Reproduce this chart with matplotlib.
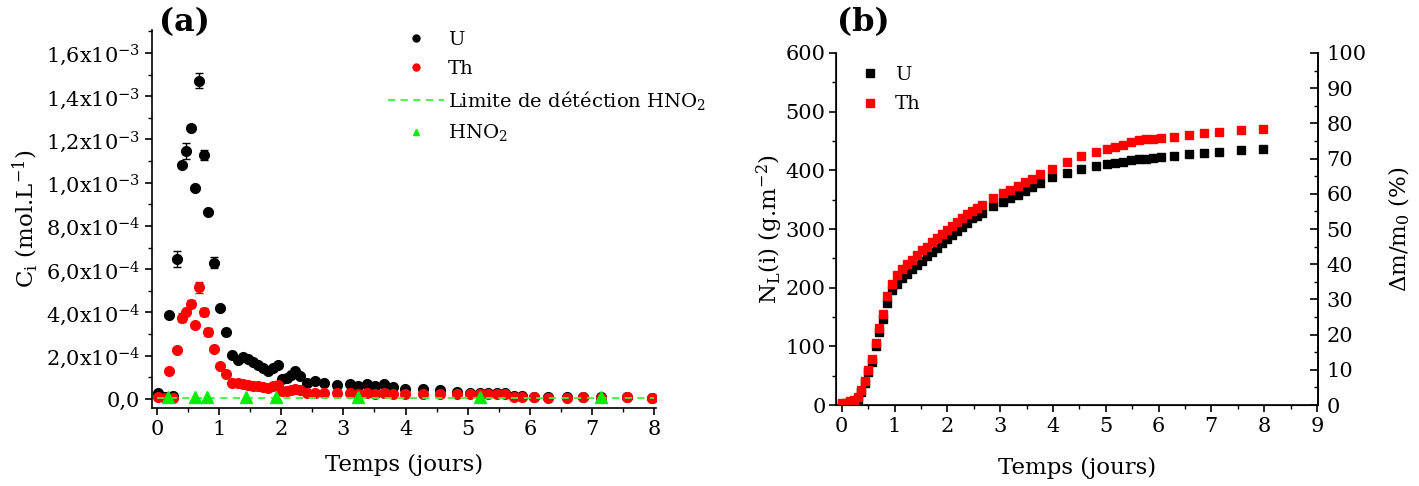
import matplotlib
matplotlib.use("Agg")
import matplotlib.pyplot as plt
from matplotlib.ticker import MultipleLocator, FuncFormatter
from matplotlib.lines import Line2D
import numpy as np

plt.rcParams['font.family'] = ['DejaVu Serif']
plt.rcParams['mathtext.fontset'] = 'dejavuserif'

# ---------------- panel (a) data ----------------
t_a = [0.02, 0.13, 0.19, 0.26, 0.33, 0.40, 0.47, 0.54, 0.61, 0.68, 0.75, 0.82, 0.91,
       1.02, 1.11, 1.21, 1.31, 1.39, 1.47, 1.55, 1.63, 1.71, 1.79, 1.87, 1.94, 2.01,
       2.09, 2.15, 2.22, 2.30, 2.41, 2.54, 2.68, 2.89, 3.10, 3.24, 3.38, 3.51, 3.66,
       3.80, 3.99, 4.28, 4.55, 4.83, 5.04, 5.19, 5.32, 5.47, 5.60, 5.74, 5.87, 6.06,
       6.30, 6.59, 6.86, 7.14, 7.56, 7.97]
c_U = [2.9e-5, 1.0e-5, 3.87e-4, 1.2e-5, 6.46e-4, 1.082e-3, 1.147e-3, 1.252e-3, 0.974e-3,
       1.472e-3, 1.127e-3, 0.866e-3, 6.3e-4, 4.22e-4, 3.08e-4, 2.03e-4, 1.80e-4, 1.96e-4,
       1.84e-4, 1.73e-4, 1.57e-4, 1.42e-4, 1.28e-4, 1.42e-4, 1.55e-4, 0.90e-4, 0.95e-4,
       1.10e-4, 1.30e-4, 1.08e-4, 0.73e-4, 0.83e-4, 0.75e-4, 0.65e-4, 0.71e-4, 0.61e-4,
       0.69e-4, 0.61e-4, 0.67e-4, 0.57e-4, 0.44e-4, 0.44e-4, 0.42e-4, 0.32e-4, 0.26e-4,
       0.29e-4, 0.26e-4, 0.26e-4, 0.26e-4, 0.15e-4, 0.15e-4, 0.10e-4, 0.07e-4, 0.07e-4,
       0.08e-4, 0.07e-4, 0.08e-4, 0.06e-4]
err_U = [5e-6, 3e-6, 8e-6, 3e-6, 3.7e-5, 8e-6, 3.7e-5, 8e-6, 8e-6, 3.6e-5, 2.2e-5, 8e-6,
         2.5e-5] + [5e-6] * 45
c_Th = [1.0e-5, 0.3e-5, 1.31e-4, 0.2e-5, 2.27e-4, 3.76e-4, 4.01e-4, 4.41e-4, 3.42e-4,
        5.16e-4, 4.01e-4, 3.08e-4, 2.30e-4, 1.53e-4, 1.16e-4, 0.75e-4, 0.72e-4, 0.70e-4,
        0.66e-4, 0.62e-4, 0.58e-4, 0.55e-4, 0.50e-4, 0.58e-4, 0.65e-4, 0.35e-4, 0.36e-4,
        0.42e-4, 0.48e-4, 0.40e-4, 0.29e-4, 0.27e-4, 0.26e-4, 0.26e-4, 0.26e-4, 0.25e-4,
        0.26e-4, 0.25e-4, 0.26e-4, 0.24e-4, 0.24e-4, 0.24e-4, 0.24e-4, 0.22e-4, 0.22e-4,
        0.24e-4, 0.22e-4, 0.22e-4, 0.22e-4, 0.08e-4, 0.08e-4, 0.07e-4, 0.06e-4, 0.06e-4,
        0.07e-4, 0.06e-4, 0.07e-4, 0.05e-4]
err_Th = [3e-6, 3e-6, 6e-6, 3e-6, 6e-6, 2.0e-5, 8e-6, 1.8e-5, 8e-6, 2.5e-5, 1.8e-5, 1.8e-5,
          8e-6] + [4e-6] * 45
t_HNO2 = [0.18, 0.61, 0.81, 1.44, 1.92, 3.23, 5.19, 7.14]
c_HNO2 = [1.0e-5] * 8
limit_x = [0.0, 8.0]
limit_value = 5e-6

# ---------------- panel (b) data ----------------
t_b = [0, 0.08, 0.16, 0.23, 0.30, 0.37, 0.43, 0.50, 0.57, 0.64, 0.71, 0.78, 0.86, 0.95,
       1.04, 1.14, 1.23, 1.33, 1.42, 1.52, 1.61, 1.70, 1.80, 1.89, 1.99, 2.08, 2.18, 2.27,
       2.37, 2.46, 2.56, 2.65, 2.86, 3.06, 3.19, 3.33, 3.47, 3.61, 3.76, 3.98, 4.26, 4.53,
       4.82, 5.02, 5.18, 5.33, 5.47, 5.62, 5.76, 5.89, 6.05, 6.30, 6.58, 6.86, 7.14, 7.56,
       7.98]
N_U = [2, 2, 3, 5, 10, 22, 38, 57, 73, 100, 125, 146, 174, 196, 206, 216, 224, 232, 239,
       246, 254, 261, 268, 276, 283, 289, 296, 304, 311, 318, 322, 328, 340, 346, 352, 358,
       364, 372, 378, 388, 396, 403, 408, 411, 413, 415, 417, 419, 420, 421, 422, 425, 428,
       430, 431, 435, 436]
N_Th = [3, 4, 6, 8, 13, 26, 41, 60, 78, 105, 132, 155, 185, 207, 221, 232, 241, 248, 256,
        264, 270, 278, 285, 292, 299, 305, 312, 318, 325, 331, 336, 341, 353, 361, 367, 374,
        380, 386, 393, 403, 414, 424, 432, 436, 440, 444, 448, 451, 453, 454, 455, 457, 460,
        463, 465, 468, 470]

W, H = 1419, 486
fig = plt.figure(figsize=(W / 100, H / 100), dpi=100)

def fx(px):
    return px / W

def fy(py):
    return 1 - py / H

tick_fs = 15
lab_fs = 16.5

# ---------------- panel (a) ----------------
ax1 = fig.add_axes([fx(152), fy(408), fx(656 - 152), (408 - 30) / H])
ax1.errorbar(t_a, c_U, yerr=err_U, fmt='o', color='black', ms=7, ecolor='black',
             elinewidth=1, capsize=3, capthick=1, zorder=3)
ax1.errorbar(t_a, c_Th, yerr=err_Th, fmt='o', color='#ff0000', ms=7, ecolor='#cc0000',
             elinewidth=1, capsize=3, capthick=1, zorder=4)
ax1.plot(limit_x, [limit_value] * len(limit_x), '--', color='#44ee44', lw=1.3,
         dashes=(4, 3), zorder=5)
ax1.plot(t_HNO2, c_HNO2, '^', color='#00ee00', ms=8, ls='none', zorder=6)

ax1.set_xlim(-0.08, 8.03)
ax1.set_ylim(-4.2e-5, 1.706e-3)
ax1.xaxis.set_major_locator(MultipleLocator(1))
ax1.xaxis.set_minor_locator(MultipleLocator(0.5))
ax1.yaxis.set_major_locator(MultipleLocator(2e-4))
ax1.yaxis.set_minor_locator(MultipleLocator(1e-4))

def sci_fmt(v, pos):
    if abs(v) < 1e-12:
        return '0,0'
    e = int(np.floor(np.log10(abs(v)) + 1e-9))
    m = v / 10 ** e
    return ('%.1f' % m).replace('.', ',') + 'x10$^{%d}$' % e

ax1.yaxis.set_major_formatter(FuncFormatter(sci_fmt))
for s in ['top', 'right']:
    ax1.spines[s].set_visible(False)
for s in ['left', 'bottom']:
    ax1.spines[s].set_linewidth(1.2)
ax1.tick_params(axis='both', which='major', direction='out', length=5, width=1.2,
                labelsize=tick_fs)
ax1.tick_params(axis='both', which='minor', direction='out', length=3, width=1.0)
ax1.set_xlabel('Temps (jours)', fontsize=lab_fs, labelpad=11)
ax1.set_ylabel('C$_{\\mathrm{i}}$ (mol.L$^{-1}$)', fontsize=lab_fs, labelpad=4)

handles_a = [
    Line2D([], [], marker='o', color='black', ls='none', ms=5),
    Line2D([], [], marker='o', color='#ff0000', ls='none', ms=5),
    Line2D([], [], color='#44ee44', ls='--', lw=1.3, dashes=(4, 3)),
    Line2D([], [], marker='^', color='#00ee00', ls='none', ms=5),
]
labels_a = ['U', 'Th', 'Limite de détéction HNO$_2$', 'HNO$_2$']
fig.legend(handles_a, labels_a, loc='upper left', bbox_to_anchor=(fx(380), fy(23)),
           frameon=False, fontsize=14, handlelength=2.9, labelspacing=0.56,
           handletextpad=0.2, borderaxespad=0)

fig.text(fx(159), fy(23), '(a)', fontsize=23, fontweight='bold', va='center', ha='left')

# ---------------- panel (b) ----------------
ax2 = fig.add_axes([fx(836), fy(405), fx(1318 - 836), (405 - 53) / H])
ax2.plot(t_b, N_U, 's', color='black', ms=6, ls='none', label='U', zorder=3)
ax2.plot(t_b, N_Th, 's', color='#ff0000', ms=6, ls='none', label='Th', zorder=4)
ax2.set_xlim(-0.11, 9.02)
ax2.set_ylim(0, 600)
ax2.xaxis.set_major_locator(MultipleLocator(1))
ax2.xaxis.set_minor_locator(MultipleLocator(0.5))
ax2.yaxis.set_major_locator(MultipleLocator(100))
ax2.yaxis.set_minor_locator(MultipleLocator(50))
ax2.spines['top'].set_visible(False)
for s in ['left', 'bottom', 'right']:
    ax2.spines[s].set_linewidth(1.2)
ax2.tick_params(axis='both', which='major', direction='out', length=5, width=1.2,
                labelsize=tick_fs)
ax2.tick_params(axis='y', which='major', pad=2.5)
ax2.tick_params(axis='both', which='minor', direction='out', length=3, width=1.0)
ax2.set_xlabel('Temps (jours)', fontsize=lab_fs, labelpad=15)
ax2.set_ylabel('N$_{\\mathrm{L}}$(i) (g.m$^{-2}$)', fontsize=lab_fs, labelpad=0)

ax3 = ax2.twinx()
ax3.set_ylim(0, 100)
ax3.yaxis.set_major_locator(MultipleLocator(10))
ax3.yaxis.set_minor_locator(MultipleLocator(5))
ax3.spines['top'].set_visible(False)
ax3.spines['right'].set_linewidth(1.2)
ax3.tick_params(axis='y', which='major', direction='in', length=6, width=1.2,
                labelsize=tick_fs, pad=6)
ax3.tick_params(axis='y', which='minor', direction='in', length=3, width=1.0)
ax3.set_ylabel('$\\Delta$m/m$_0$ (%)', fontsize=lab_fs, labelpad=15)

ax2.legend(loc='upper left', bbox_to_anchor=(fx(848), fy(58)), bbox_transform=fig.transFigure,
           frameon=False, fontsize=14, markerscale=0.9, handlelength=1.5,
           handletextpad=0.5, labelspacing=0.6, borderaxespad=0)

fig.text(fx(837), fy(23), '(b)', fontsize=23, fontweight='bold', va='center', ha='left')

fig.savefig('out.png', dpi=100)
